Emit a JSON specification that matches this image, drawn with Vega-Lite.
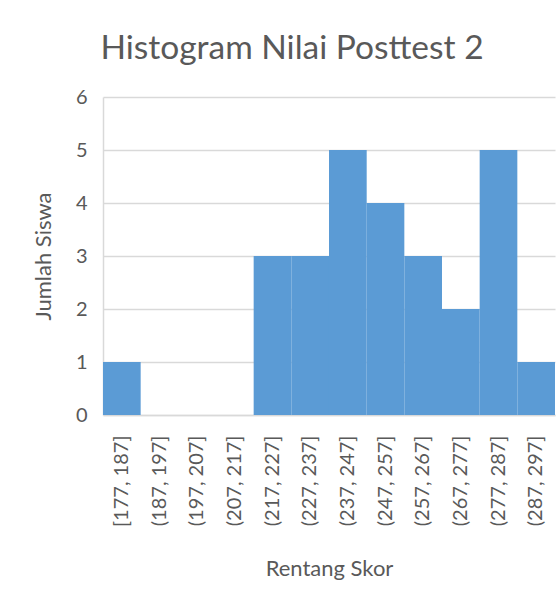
{
  "$schema": "https://vega.github.io/schema/vega-lite/v6.json",
  "width": 452,
  "height": 318,
  "autosize": {"type": "none"},
  "padding": {"left": 103, "top": 97, "right": 5, "bottom": 177},
  "background": "white",
  "title": {
    "text": "Histogram Nilai Posttest 2",
    "font": "Lato",
    "fontSize": 33.5,
    "fontWeight": "normal",
    "color": "#595959",
    "anchor": "middle",
    "frame": "group",
    "baseline": "alphabetic",
    "offset": 35,
    "dx": -37,
    "dy": 40
  },
  "data": {
    "values": [
      {"bin": "[177, 187]", "count": 1},
      {"bin": "(187, 197]", "count": 0},
      {"bin": "(197, 207]", "count": 0},
      {"bin": "(207, 217]", "count": 0},
      {"bin": "(217, 227]", "count": 3},
      {"bin": "(227, 237]", "count": 3},
      {"bin": "(237, 247]", "count": 5},
      {"bin": "(247, 257]", "count": 4},
      {"bin": "(257, 267]", "count": 3},
      {"bin": "(267, 277]", "count": 2},
      {"bin": "(277, 287]", "count": 5},
      {"bin": "(287, 297]", "count": 1}
    ]
  },
  "mark": {"type": "bar", "color": "#5B9BD5", "width": {"band": 1}},
  "encoding": {
    "x": {
      "field": "bin",
      "type": "ordinal",
      "sort": null,
      "scale": {"paddingInner": 0, "paddingOuter": 0},
      "axis": {
        "title": "Rentang Skor",
        "labelAngle": 270,
        "labelPadding": 20,
        "titlePadding": 32,
        "ticks": false,
        "domainColor": "#D9D9D9",
        "domainWidth": 1.5
      }
    },
    "y": {
      "field": "count",
      "type": "quantitative",
      "scale": {"domain": [0, 6], "nice": false},
      "axis": {
        "title": "Jumlah Siswa",
        "values": [0, 1, 2, 3, 4, 5, 6],
        "labelPadding": 16,
        "titlePadding": 20,
        "ticks": false,
        "domain": true,
        "domainColor": "#D9D9D9",
        "domainWidth": 1.5,
        "gridColor": "#D9D9D9",
        "gridWidth": 1.5
      }
    }
  },
  "config": {
    "view": {"stroke": null},
    "axis": {
      "labelFont": "Lato",
      "titleFont": "Lato",
      "labelFontSize": 20,
      "titleFontSize": 22,
      "labelColor": "#595959",
      "titleColor": "#595959",
      "titleFontWeight": "normal",
      "grid": true
    },
    "axisX": {"grid": false}
  }
}
